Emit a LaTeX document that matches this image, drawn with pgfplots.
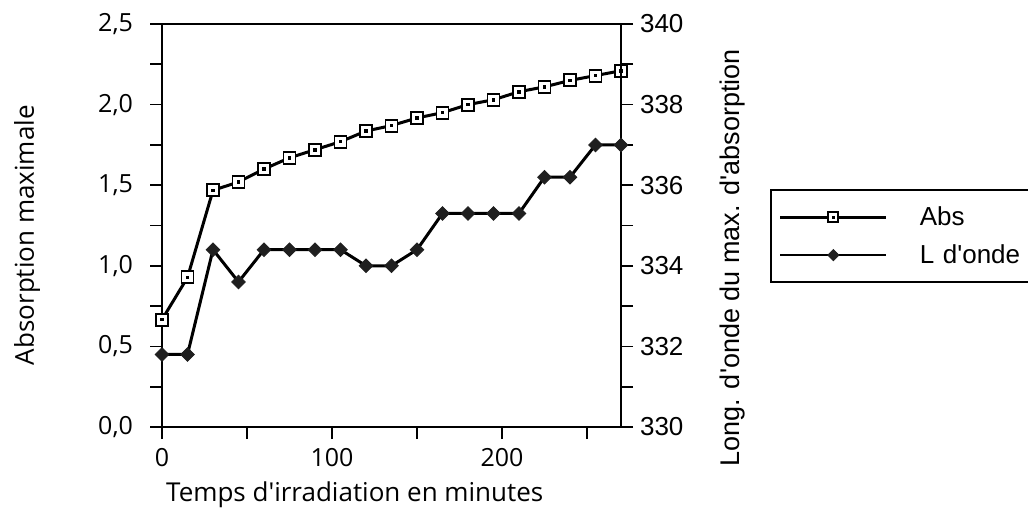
\documentclass[border=0pt]{standalone}
\usepackage{pgfplots}
\pgfplotsset{compat=1.18}
\usepackage{fontspec}
\setmainfont{Liberation Sans}
\newfontfamily\hum{Open Sans}
\pgfdeclareplotmark{sqdot}{%
  \pgfsetlinewidth{0.95pt}%
  \pgfpathrectangle{\pgfpoint{-\pgfplotmarksize}{-\pgfplotmarksize}}{\pgfpoint{2\pgfplotmarksize}{2\pgfplotmarksize}}%
  \pgfsetfillcolor{white}\pgfusepathqfillstroke
  \pgfpathrectangle{\pgfpoint{-0.3\pgfplotmarksize}{-0.3\pgfplotmarksize}}{\pgfpoint{0.6\pgfplotmarksize}{0.6\pgfplotmarksize}}%
  \pgfsetfillcolor{black}\pgfusepathqfill}
\pgfdeclareplotmark{dia}{%
  \pgfsetlinewidth{0.4pt}%
  \pgfpathmoveto{\pgfpoint{0pt}{\pgfplotmarksize}}%
  \pgfpathlineto{\pgfpoint{\pgfplotmarksize}{0pt}}%
  \pgfpathlineto{\pgfpoint{0pt}{-\pgfplotmarksize}}%
  \pgfpathlineto{\pgfpoint{-\pgfplotmarksize}{0pt}}%
  \pgfpathclose
  \pgfsetfillcolor{black!88}\pgfsetstrokecolor{black!88}%
  \pgfusepathqfillstroke}
\pgfplotstableread{
t abs lo
0 0.666 331.8
15 0.928 331.8
30 1.468 334.4
45 1.52 333.6
60 1.60 334.4
75 1.67 334.4
90 1.72 334.4
105 1.77 334.4
120 1.836 334.0
135 1.87 334.0
150 1.917 334.4
165 1.95 335.3
180 2.00 335.3
195 2.03 335.3
210 2.08 335.3
225 2.11 336.2
240 2.15 336.2
255 2.18 337.0
270 2.21 337.0
}\data
\begin{document}
\begin{tikzpicture}[font=\fontsize{13}{15}\selectfont]
\useasboundingbox (0,0) rectangle (514pt,257.5pt);
\pgfplotsset{
  common/.style={
    at={(81pt,44pt)}, anchor=south west,
    scale only axis, width=229.5pt, height=201.5pt,
    xmin=0, xmax=270,
    tick align=outside,
    major tick length=6pt, minor tick length=6pt,
    every tick/.style={black, line width=0.9pt},
    axis line style={line width=1pt},
    /pgf/number format/assume math mode=true,
    clip=false,
  }
}
\begin{axis}[common,
  ymin=0, ymax=2.5,
  xtick={0,100,200}, minor xtick={50,150,250},
  ytick={0,0.5,...,2.5}, minor ytick={0.25,0.75,...,2.25},
  xtick pos=bottom, ytick pos=left,
  yticklabel style={font=\hum\fontsize{12.5}{14}\selectfont, xshift=-5pt, /pgf/number format/.cd, use comma, fixed, fixed zerofill, precision=1},
  xticklabel style={font=\hum\fontsize{12.5}{14}\selectfont, yshift=-1pt},
  xlabel={Temps d\textquotesingle irradiation en minutes},
  every axis x label/.style={at={(axis description cs:0.42,-0.169)}, anchor=center, font=\hum\fontsize{13}{15}\selectfont},
  ylabel={Absorption maximale},
  every axis y label/.style={at={(axis description cs:-0.294,0.476)}, rotate=90, anchor=center, font=\hum\fontsize{13}{15}\selectfont},
]
\addplot[black, line width=1.5pt, mark=sqdot, mark size=3pt] table[x=t, y=abs] {\data};
\end{axis}
\begin{axis}[common,
  ymin=330, ymax=340,
  axis x line=none, axis y line*=right,
  ytick={330,332,...,340}, minor ytick={331,333,...,339},
  yticklabel style={font=\fontsize{13}{15}\selectfont},
  ylabel={Long. d\textquotesingle onde du max. d\textquotesingle absorption},
  every axis y label/.style={at={(axis description cs:1.244,0.42)}, rotate=90, anchor=center, font=\fontsize{13.5}{15}\selectfont},
  legend style={at={(axis description cs:1.3246,0.3573)}, anchor=south west,
    draw=black, line width=1pt, inner xsep=4pt, inner ysep=6pt,
    font=\fontsize{13}{15}\selectfont, row sep=4pt,
    nodes={inner xsep=7pt, text width=60pt},
    /tikz/every odd column/.style={column sep=9pt}},
  legend cell align=left,
  legend image code/.code={%
    \draw[#1, mark=none] (0pt,0pt) -- (53pt,0pt);
    \draw[#1, only marks] plot coordinates {(26.5pt,0pt)};},
]
\addplot[black, line width=1.5pt, mark=dia, mark size=3.4pt, forget plot] table[x=t, y=lo] {\data};
\addlegendimage{black, line width=1.4pt, mark=sqdot, mark size=2.5pt}
\addlegendentry{Abs}
\addlegendimage{black, line width=1.4pt, mark=dia, mark size=2.8pt}
\addlegendentry{L d\textquotesingle onde}
\end{axis}
\end{tikzpicture}
\end{document}
